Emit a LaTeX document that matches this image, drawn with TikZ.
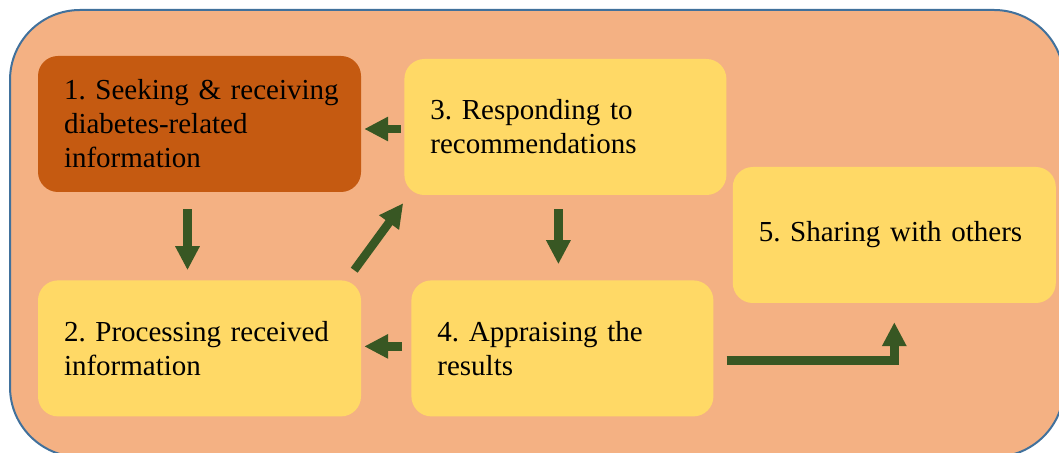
\documentclass[tikz,border=0pt]{standalone}
\usepackage{fontspec}
\setmainfont{Liberation Serif}
\usetikzlibrary{
  arrows.meta,
  positioning,
}
\definecolor{framefill}{HTML}{F4B183}
\definecolor{framedraw}{HTML}{41719C}
\definecolor{darkstep}{HTML}{C55A11}
\definecolor{lightstep}{HTML}{FFD966}
\definecolor{arrowgreen}{HTML}{385723}
\newcommand{\stepfont}{\fontsize{29}{34}\selectfont\frenchspacing\hyphenpenalty=10000\relax}
\tikzset{
  >={Triangle[width=23pt,length=24pt]},
  stepbox/.style={fill=lightstep, rounded corners=20pt, minimum height=136pt,
    inner xsep=26pt, inner ysep=0pt, align=left, font=\stepfont},
  flow/.style={->, draw=arrowgreen, line width=8.5pt},
}

\begin{document}
\begin{tikzpicture}
      \useasboundingbox (0,0) rectangle (1059pt,452pt);
      \clip (0,0) rectangle (1059pt,452pt);
      \draw [fill=framefill, draw=framedraw, line width=2pt, rounded corners=70pt]
        (10pt,442pt) rectangle (1064pt,-5pt);

      \node [stepbox, fill=darkstep, minimum width=323pt, text width=271pt]
        (one) at (199.5pt,328pt) {1.~Seeking~\&~receiving\\diabetes-related\\information};
      \node [stepbox, minimum width=323pt, text width=271pt, below=88pt of one]
        (two) {2. Processing received\\information};
      \node [stepbox, minimum width=322pt, text width=270pt, right=43pt of one, yshift=-3pt]
        (three) {3. Responding to\\recommendations};
      \node [stepbox, minimum width=302pt, text width=250pt, right=50pt of two]
        (four) {4. Appraising the\\results};
      \node [stepbox, minimum width=323pt, text width=271pt, right=6pt of three, yshift=-108pt]
        (five) {5. Sharing with others};

      \coordinate (elbow) at ([yshift=-12pt]four.east -| five.south);

      \draw [flow] ([xshift=-12pt,yshift=-17pt]one.south) -- ([xshift=-12pt,yshift=10pt]two.north);
      \draw [flow] ([xshift=-7pt,yshift=-14pt]three.south) -- ([xshift=-4pt,yshift=16pt]four.north);
      \draw [flow] ([xshift=-3pt,yshift=-2pt]three.west) -- ([xshift=3pt,yshift=-5pt]one.east);
      \draw [flow] ([xshift=-9pt,yshift=2pt]four.west) -- ([xshift=3pt,yshift=2pt]two.east);
      \draw [flow] ([xshift=-7pt,yshift=10pt]two.north east) -- ([xshift=-1pt,yshift=-8pt]three.south west);
      \draw [flow] ([xshift=13pt,yshift=-12pt]four.east) -- (elbow) -- ([yshift=-19pt]five.south);
    \end{tikzpicture}
\end{document}
